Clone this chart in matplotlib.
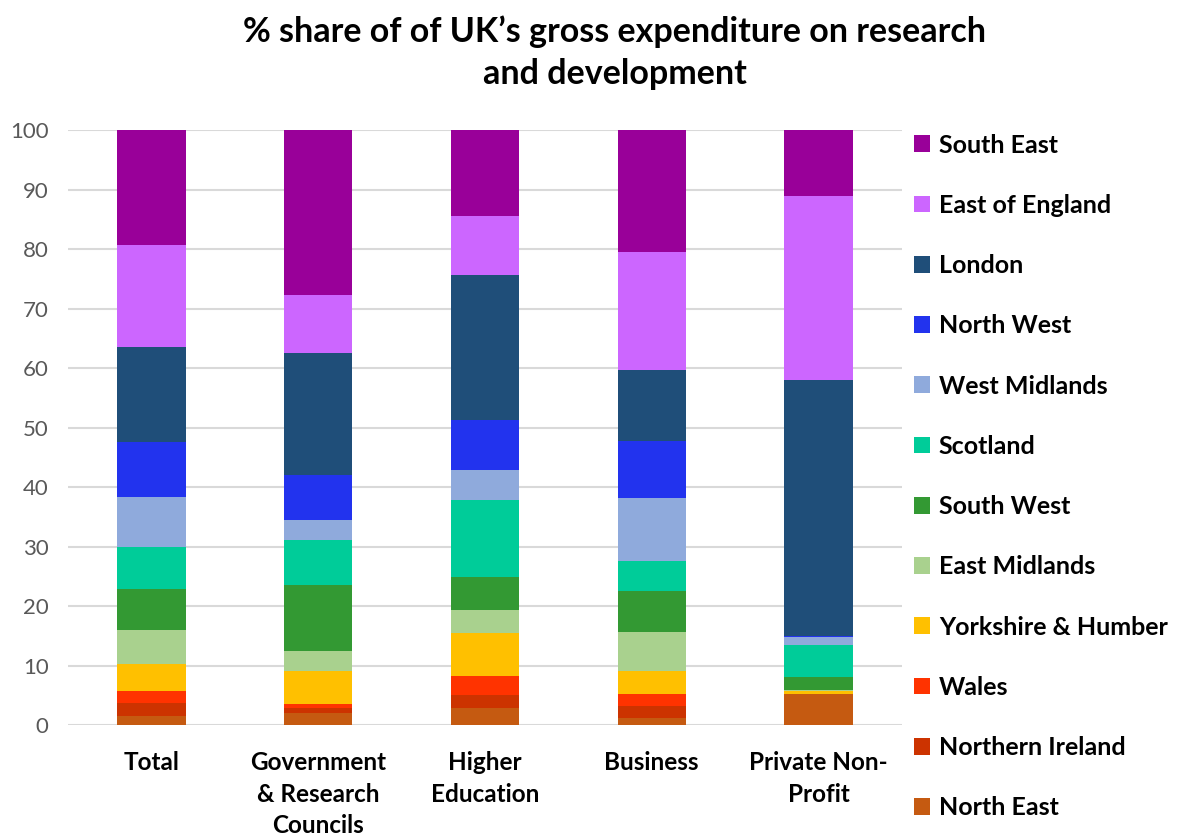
import numpy as np
import matplotlib
matplotlib.use('Agg')
import matplotlib.pyplot as plt
from matplotlib.patches import Patch

plt.rcParams['font.family'] = ['Lato', 'DejaVu Sans']

# sectors on x axis
sectors = ['Total', 'Government\n& Research\nCouncils', 'Higher\nEducation', 'Business', 'Private Non-\nProfit']

# regions, bottom of stack first
regions = ['North East', 'Northern Ireland', 'Wales', 'Yorkshire & Humber', 'East Midlands',
           'South West', 'Scotland', 'West Midlands', 'North West', 'London',
           'East of England', 'South East']

north_east = [1.5, 2.0, 2.8, 1.1, 5.2]
northern_ireland = [2.2, 0.9, 2.2, 2.1, 0.0]
wales = [2.1, 0.6, 3.3, 2.0, 0.0]
yorkshire = [4.5, 5.6, 7.1, 3.9, 0.45]
east_midlands = [5.7, 3.3, 4.0, 6.5, 0.2]
south_west = [6.9, 11.1, 5.5, 6.9, 2.2]
scotland = [7.0, 7.6, 12.9, 5.1, 5.4]
west_midlands = [8.5, 3.3, 5.0, 10.5, 1.3]
north_west = [9.1, 7.6, 8.4, 9.7, 0.2]
london = [16.0, 20.5, 24.4, 11.9, 43.1]
east_of_england = [17.1, 9.7, 10.0, 19.8, 30.8]
south_east = [19.4, 27.8, 14.4, 20.5, 11.2]

series = [north_east, northern_ireland, wales, yorkshire, east_midlands, south_west,
          scotland, west_midlands, north_west, london, east_of_england, south_east]

colors = ['#C55A11', '#CC3300', '#FF3300', '#FFC000', '#A9D18E', '#339933',
          '#00CC99', '#8FAADC', '#2233EE', '#1F4E79', '#CC66FF', '#990099']

fig = plt.figure(figsize=(11.82, 8.35), dpi=100)
ax = fig.add_axes([0.0575, 0.1317, 0.7055, 0.7126])

x = np.arange(len(sectors))
bottom = np.zeros(len(sectors))
for vals, c in zip(series, colors):
    ax.bar(x, vals, bottom=bottom, width=0.41, color=c, zorder=3)
    bottom += np.array(vals)

ax.set_xlim(-0.5, len(sectors) - 0.5)
ax.set_ylim(0, 100)
ax.set_yticks(range(0, 101, 10))
ax.yaxis.grid(True, color='#d9d9d9', linewidth=1.5, zorder=0)
for s in ax.spines.values():
    s.set_visible(False)
ax.tick_params(length=0)
ax.tick_params(axis='y', labelsize=16, labelcolor='#595959', pad=14)
ax.set_xticks(x)
ax.set_xticklabels(sectors, fontsize=17.5, fontweight='bold', linespacing=1.43)
ax.tick_params(axis='x', pad=19)

handles = [Patch(facecolor=c) for c in colors[::-1]]
fig.legend(handles, regions[::-1], loc='upper left', bbox_to_anchor=(0.754, 0.867),
           frameon=False, prop={'size': 18, 'weight': 'bold'},
           handlelength=0.65, handleheight=0.65, handletextpad=0.35, labelspacing=1.49)

fig.text(0.52, 0.982, "% share of of UK\u2019s gross expenditure on research\nand development",
         ha='center', va='top', fontsize=24.5, fontweight='bold', linespacing=1.4)

fig.savefig('out.png', dpi=100)
